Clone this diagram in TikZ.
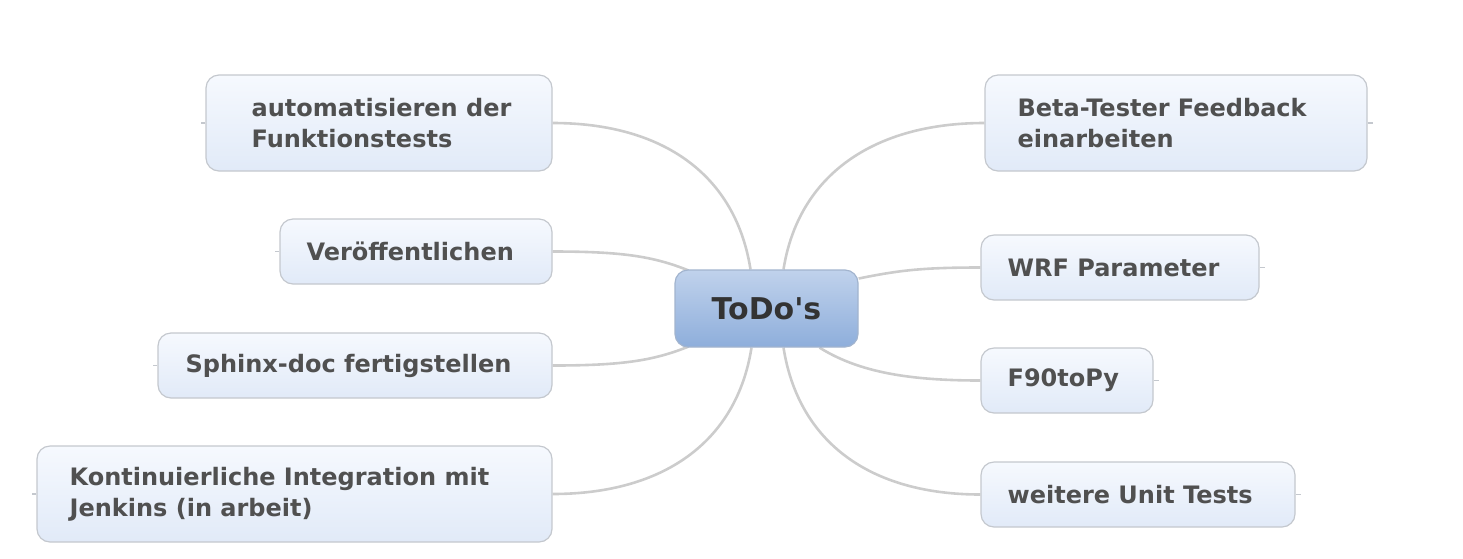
\documentclass[tikz,border=0pt]{standalone}
\usepackage{fontspec}
\setmainfont{DejaVu Sans}
\usetikzlibrary{backgrounds}
\definecolor{boxtop}{HTML}{F6F9FE}
\definecolor{boxbot}{HTML}{E1EAF8}
\definecolor{boxline}{HTML}{C4C8CE}
\definecolor{ctop}{HTML}{C0D2EC}
\definecolor{cbot}{HTML}{8EAEDB}
\definecolor{cline}{HTML}{A2B4CE}
\definecolor{conn}{HTML}{CCCCCC}
\definecolor{txtc}{HTML}{505050}
\definecolor{ctxt}{HTML}{333333}
\tikzset{
  topicbox/.style={draw=boxline, line width=1.2pt, rounded corners=13pt, top color=boxtop, bottom color=boxbot, inner sep=0pt},
  centerbox/.style={draw=cline, line width=1.2pt, rounded corners=13pt, top color=ctop, bottom color=cbot, inner sep=0pt},
  topictext/.style={anchor=west, inner sep=0pt, align=left, text=txtc, font=\bfseries\fontsize{24}{31}\selectfont},
  conline/.style={draw=conn, line width=2.6pt},
  stub/.style={draw=boxline, line width=1.2pt}
}
\begin{document}
\begin{tikzpicture}[x=1pt,y=-1pt]
\useasboundingbox (0,0) rectangle (1463,558);
% central node
\node[centerbox, minimum width=183pt, minimum height=77pt] (todo) at (766.5,308.5) {};
% topic nodes
\node[topicbox, minimum width=346pt, minimum height=96pt] (auto) at (379,123) {};
\node[topicbox, minimum width=272pt, minimum height=65pt] (veroe) at (416,251.5) {};
\node[topicbox, minimum width=394pt, minimum height=65pt] (sphinx) at (355,365.5) {};
\node[topicbox, minimum width=515pt, minimum height=96pt] (kont) at (294.5,494) {};
\node[topicbox, minimum width=382pt, minimum height=96pt] (beta) at (1176,123) {};
\node[topicbox, minimum width=278pt, minimum height=65pt] (wrf) at (1120,267.5) {};
\node[topicbox, minimum width=172pt, minimum height=65pt] (f90) at (1067,380.5) {};
\node[topicbox, minimum width=314pt, minimum height=65pt] (weit) at (1138,494.5) {};
% connectors (behind boxes)
\begin{scope}[on background layer]
\path[conline] ([xshift=-16pt]todo.north) .. controls +(-15,-95) and +(110,0) .. (auto.east);
\path[conline] ([xshift=17pt]todo.north) .. controls +(15,-95) and +(-110,0) .. (beta.west);
\path[conline] ([xshift=14pt,yshift=-1pt]todo.north west) .. controls +(-35,-14) and +(70,0) .. (veroe.east);
\path[conline] ([xshift=14pt,yshift=1pt]todo.south west) .. controls +(-35,14) and +(70,0) .. (sphinx.east);
\path[conline] ([yshift=30pt]todo.east) .. controls +(40,-8) and +(-60,0) .. (wrf.west);
\path[conline] ([xshift=53pt]todo.south) .. controls +(40,25) and +(-70,0) .. (f90.west);
\path[conline] ([xshift=-15pt]todo.south) .. controls +(-15,95) and +(110,0) .. (kont.east);
\path[conline] ([xshift=17pt]todo.south) .. controls +(15,95) and +(-110,0) .. (weit.west);
\end{scope}
% stubs
\draw[stub] (auto.west) -- ++(-4,0);
\draw[stub] (veroe.west) -- ++(-4,0);
\draw[stub] (sphinx.west) -- ++(-4,0);
\draw[stub] (kont.west) -- ++(-4,0);
\draw[stub] (beta.east) -- ++(5,0);
\draw[stub] (wrf.east) -- ++(5,0);
\draw[stub] (f90.east) -- ++(5,0);
\draw[stub] (weit.east) -- ++(5,0);
% texts
\node[inner sep=0pt, text=ctxt, font=\bfseries\fontsize{30}{32}\selectfont] (todot) at (todo) {ToDo\textquotesingle s};
\node[topictext] (autot) at ([xshift=46pt]auto.west) {automatisieren der\\Funktionstests};
\node[topictext] (veroet) at ([xshift=27pt]veroe.west) {Veröffentlichen};
\node[topictext] (sphinxt) at ([xshift=28pt]sphinx.west) {Sphinx-doc fertigstellen};
\node[topictext] (kontt) at ([xshift=33pt]kont.west) {Kontinuierliche Integration mit\\Jenkins (in arbeit)};
\node[topictext] (betat) at ([xshift=33pt]beta.west) {Beta-Tester Feedback\\einarbeiten};
\node[topictext] (wrft) at ([xshift=27pt]wrf.west) {WRF Parameter};
\node[topictext] (f90t) at ([xshift=27pt]f90.west) {F90toPy};
\node[topictext] (weitt) at ([xshift=27pt]weit.west) {weitere Unit Tests};
\end{tikzpicture}
\end{document}
